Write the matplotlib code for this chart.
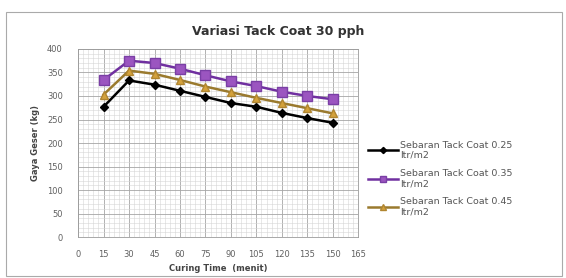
import matplotlib
matplotlib.use('Agg')
import matplotlib.pyplot as plt
from matplotlib.ticker import MultipleLocator
from matplotlib.patches import Rectangle

plt.rcParams['font.family'] = ['DejaVu Sans']

# data
waktu = [15, 30, 45, 60, 75, 90, 105, 120, 135, 150]
tc_025 = [277, 333, 324, 311, 298, 285, 277, 264, 253, 243]
tc_035 = [334, 375, 370, 358, 344, 331, 321, 309, 300, 293]
tc_045 = [303, 354, 347, 334, 320, 308, 296, 285, 274, 263]
labels = ['Sebaran Tack Coat 0.25\nltr/m2',
          'Sebaran Tack Coat 0.35\nltr/m2',
          'Sebaran Tack Coat 0.45\nltr/m2']

fig = plt.figure(figsize=(5.66, 2.78), dpi=100)
ax = fig.add_axes([0.138, 0.147, 0.495, 0.677])

ax.plot(waktu, tc_025, color='black', lw=1.8, marker='D', ms=4.5,
        mfc='black', mec='black', label=labels[0])
ax.plot(waktu, tc_035, color='#7030A0', lw=1.8, marker='s', ms=7,
        mfc='#9B55C0', mec='#7A3FA5', label=labels[1])
ax.plot(waktu, tc_045, color='#9A7A2E', lw=1.8, marker='^', ms=5.5,
        mfc='#D4A23C', mec='#B08530', label=labels[2])

ax.set_xlim(0, 165)
ax.set_ylim(0, 400)
ax.xaxis.set_major_locator(MultipleLocator(15))
ax.xaxis.set_minor_locator(MultipleLocator(3))
ax.yaxis.set_major_locator(MultipleLocator(50))
ax.yaxis.set_minor_locator(MultipleLocator(10))
ax.grid(which='major', color='#a5a5a5', lw=0.6)
ax.grid(which='minor', color='#d6d6d6', lw=0.4)
ax.set_axisbelow(True)
ax.tick_params(which='both', length=0, labelsize=6, colors='#606060')
ax.tick_params(axis='x', pad=9)
ax.tick_params(axis='y', pad=11)
for s in ax.spines.values():
    s.set_color('#9a9a9a')
    s.set_linewidth(0.6)

ax.set_title('Variasi Tack Coat 30 pph', fontsize=9, fontweight='bold',
             color='#333333', x=0.714, pad=10)
ax.set_xlabel('Curing Time  (menit)', fontsize=6, fontweight='bold', color='#444444', labelpad=4)
ax.set_ylabel('Gaya Geser (kg)', fontsize=6, fontweight='bold', color='#444444', labelpad=5)

leg = ax.legend(loc='upper left', bbox_to_anchor=(0.636, 0.525),
                bbox_transform=fig.transFigure, frameon=False, fontsize=6.8,
                handlelength=3.1, labelspacing=0.95, handletextpad=0.2,
                markerscale=0.7)
for t in leg.get_texts():
    t.set_color('#555555')

# outer chart border
fig.patches.append(Rectangle((0.010, 0.007), 0.983, 0.95, transform=fig.transFigure,
                             fill=False, edgecolor='#aaaaaa', lw=0.8))

fig.savefig('out.png', dpi=100)
plt.close(fig)
